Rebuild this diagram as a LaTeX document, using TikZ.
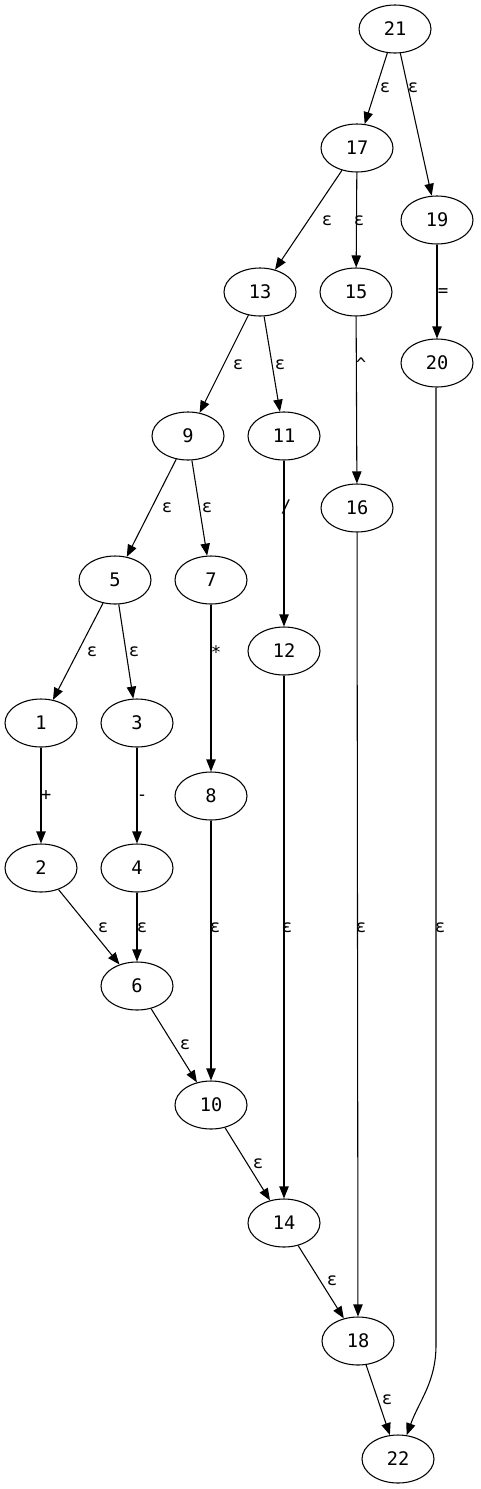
\documentclass[tikz,border=0pt]{standalone}
\usepackage{fontspec}
\usepackage{tikz}
\usetikzlibrary{arrows.meta,shapes.geometric}
\newfontfamily\statefont{DejaVu Sans Mono}

\tikzset{
  state/.style={ellipse, draw, line width=0.8pt, minimum width=54pt, minimum height=36pt,
                inner sep=0pt, font=\statefont\fontsize{14}{16}\selectfont},
  edge/.style={line width=0.8pt, -{Triangle[length=9pt,width=7pt]}},
  lbl/.style={inner sep=0pt, text height=0.6em, text depth=0pt,
              font=\statefont\fontsize{13}{15}\selectfont}
}

\begin{document}
\begin{tikzpicture}[x=0.75pt, y=0.75pt]
  \useasboundingbox (0,0) rectangle (480,-1489);

  % states
  \node[state] (n21) at (395,-29) {21};
  \node[state] (n17) at (357,-148) {17};
  \node[state] (n19) at (437,-220) {19};
  \node[state] (n13) at (260,-292) {13};
  \node[state] (n15) at (356,-292) {15};
  \node[state] (n20) at (437,-363) {20};
  \node[state] (n9)  at (188,-436) {9};
  \node[state] (n11) at (284,-436) {11};
  \node[state] (n16) at (357,-508) {16};
  \node[state] (n5)  at (115,-580) {5};
  \node[state] (n7)  at (211,-580) {7};
  \node[state] (n12) at (284,-651) {12};
  \node[state] (n1)  at (41,-723) {1};
  \node[state] (n3)  at (137,-723) {3};
  \node[state] (n8)  at (211,-796) {8};
  \node[state] (n2)  at (41,-868) {2};
  \node[state] (n4)  at (137,-868) {4};
  \node[state] (n6)  at (137,-986) {6};
  \node[state] (n10) at (211,-1105) {10};
  \node[state] (n14) at (284,-1223) {14};
  \node[state] (n18) at (358,-1341) {18};
  \node[state] (n22) at (398,-1459) {22};

  \coordinate (c20) at (436,-1345);

  % transitions
  \draw[edge] (n21) -- (n17) node[lbl] at (385,-88) {ε};
  \draw[edge] (n21) -- (n19) node[lbl] at (413,-88) {ε};
  \draw[edge] (n17) -- (n13) node[lbl] at (327,-221) {ε};
  \draw[edge] (n17) -- (n15) node[lbl] at (359,-221) {ε};
  \draw[edge] (n19) -- (n20) node[lbl] at (443,-292) {=};
  \draw[edge] (n13) -- (n9)  node[lbl] at (238,-365) {ε};
  \draw[edge] (n13) -- (n11) node[lbl] at (280,-365) {ε};
  \draw[edge] (n15) -- (n16) node[lbl] at (361,-366) {\char`\^};
  \draw[edge] (n9) -- (n5)   node[lbl] at (167,-508) {ε};
  \draw[edge] (n9) -- (n7)   node[lbl] at (207,-508) {ε};
  \draw[edge] (n11) -- (n12) node[lbl] at (286,-508) {/};
  \draw[edge] (n5) -- (n1)   node[lbl] at (92,-652) {ε};
  \draw[edge] (n5) -- (n3)   node[lbl] at (134,-652) {ε};
  \draw[edge] (n7) -- (n8)   node[lbl] at (216,-654) {*};
  \draw[edge] (n1) -- (n2)   node[lbl] at (46,-796) {+};
  \draw[edge] (n3) -- (n4)   node[lbl] at (142,-796) {-};
  \draw[edge] (n2) -- (n6)   node[lbl] at (103,-928) {ε};
  \draw[edge] (n4) -- (n6)   node[lbl] at (142,-928) {ε};
  \draw[edge] (n8) -- (n10)  node[lbl] at (215,-928) {ε};
  \draw[edge] (n12) -- (n14) node[lbl] at (287,-928) {ε};
  \draw[edge] (n16) -- (n18) node[lbl] at (361,-928) {ε};
  \draw[edge] (n6) -- (n10)  node[lbl] at (185,-1045) {ε};
  \draw[edge] (n10) -- (n14) node[lbl] at (258,-1164) {ε};
  \draw[edge] (n14) -- (n18) node[lbl] at (332,-1281) {ε};
  \draw[edge] (n18) -- (n22) node[lbl] at (387,-1400) {ε};
  \draw[edge] (n20.south -| c20) -- (c20) to[out=-90, in=70] (n22)
    node[lbl] at (440,-928) {ε};

\end{tikzpicture}
\end{document}
